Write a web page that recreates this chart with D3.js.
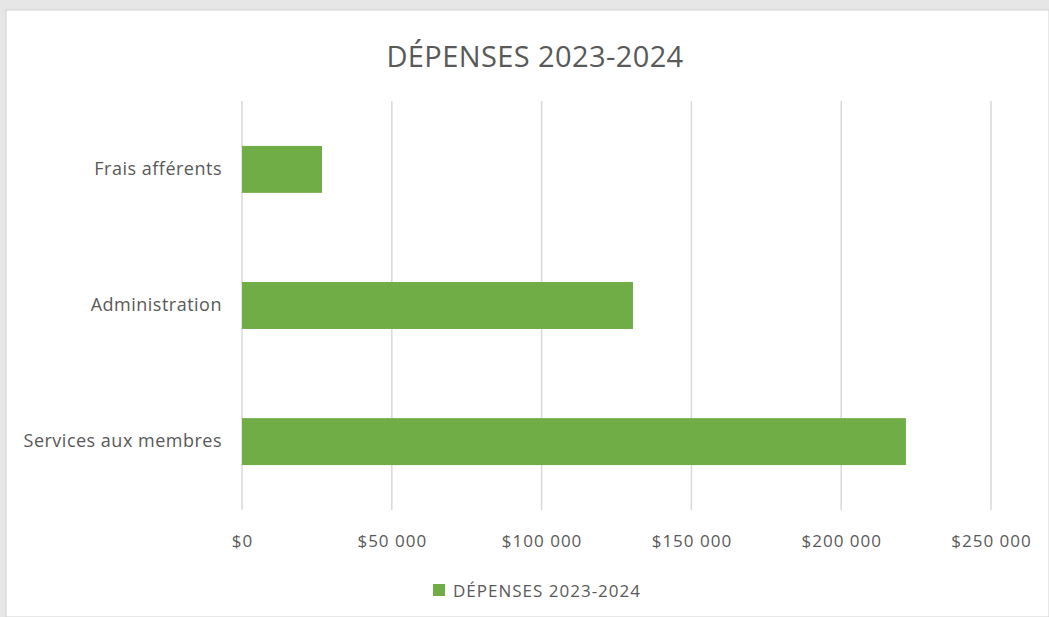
<!DOCTYPE html>
<html><head><meta charset="utf-8">
<script src="https://cdn.jsdelivr.net/npm/d3@7"></script>
<style>html,body{margin:0;padding:0;background:#e9e9e9;overflow:hidden}</style>
</head><body>
<svg id="c" width="1049" height="617"></svg>
<script>
const categories = ["Frais afférents", "Administration", "Services aux membres"];
const values = [26700, 130500, 221600];
const tickValues = [0, 50000, 100000, 150000, 200000, 250000];
const tickLabels = ["$0", "$50 000", "$100 000", "$150 000", "$200 000", "$250 000"];
const title = "DÉPENSES 2023-2024";
const seriesName = "DÉPENSES 2023-2024";

const svg = d3.select("#c");
const font = "'Open Sans', 'Liberation Sans', sans-serif";
const txt = "#595959";

// background + panel
svg.append("rect").attr("width",1049).attr("height",617).attr("fill","#e6e6e6");
svg.append("rect").attr("x",6).attr("y",10).attr("width",1043).attr("height",607)
  .attr("fill","#ffffff").attr("stroke","#d0d0d0").attr("stroke-width",1);

const x = d3.scaleLinear().domain([0,250000]).range([242,991]);
const y = d3.scaleBand().domain(categories).range([101,510]).paddingInner(0.655).paddingOuter(0.33);

// gridlines
svg.append("g").selectAll("line").data(tickValues).join("line")
  .attr("x1",d=>x(d)).attr("x2",d=>x(d)).attr("y1",101).attr("y2",510)
  .attr("stroke","#d9d9d9").attr("stroke-width",1.5);

// bars
svg.append("g").selectAll("rect").data(values).join("rect")
  .attr("x",x(0)).attr("y",(d,i)=>y(categories[i]))
  .attr("width",d=>x(d)-x(0)).attr("height",y.bandwidth())
  .attr("fill","#70ad47");

// x axis labels
const xa = d3.axisBottom(x).tickValues(tickValues).tickFormat((d,i)=>tickLabels[i]).tickSize(0).tickPadding(0);
const gx = svg.append("g").attr("transform","translate(0,547)").call(xa);
gx.select(".domain").remove();
gx.selectAll("text").attr("font-family",font).attr("font-size",17).attr("letter-spacing",1)
  .attr("fill",txt).attr("dy",0).attr("y",0);

// y axis labels
const ya = d3.axisLeft(y).tickSize(0).tickPadding(20);
const gy = svg.append("g").attr("transform",`translate(${x(0)},0)`).call(ya);
gy.select(".domain").remove();
gy.selectAll("text").attr("font-family",font).attr("font-size",18).attr("letter-spacing",0.5).attr("fill",txt);

// title
svg.append("text").attr("x",535).attr("y",67).attr("text-anchor","middle")
  .attr("font-family",font).attr("font-size",29).attr("letter-spacing",0.4).attr("fill",txt).text(title);

// legend
const lg = svg.append("g").attr("transform","translate(433,584)");
lg.append("rect").attr("width",12).attr("height",12).attr("fill","#70ad47");
lg.append("text").attr("x",20).attr("y",13).attr("font-family",font).attr("font-size",17).attr("letter-spacing",1).attr("fill",txt).text(seriesName);
</script>
</body></html>
